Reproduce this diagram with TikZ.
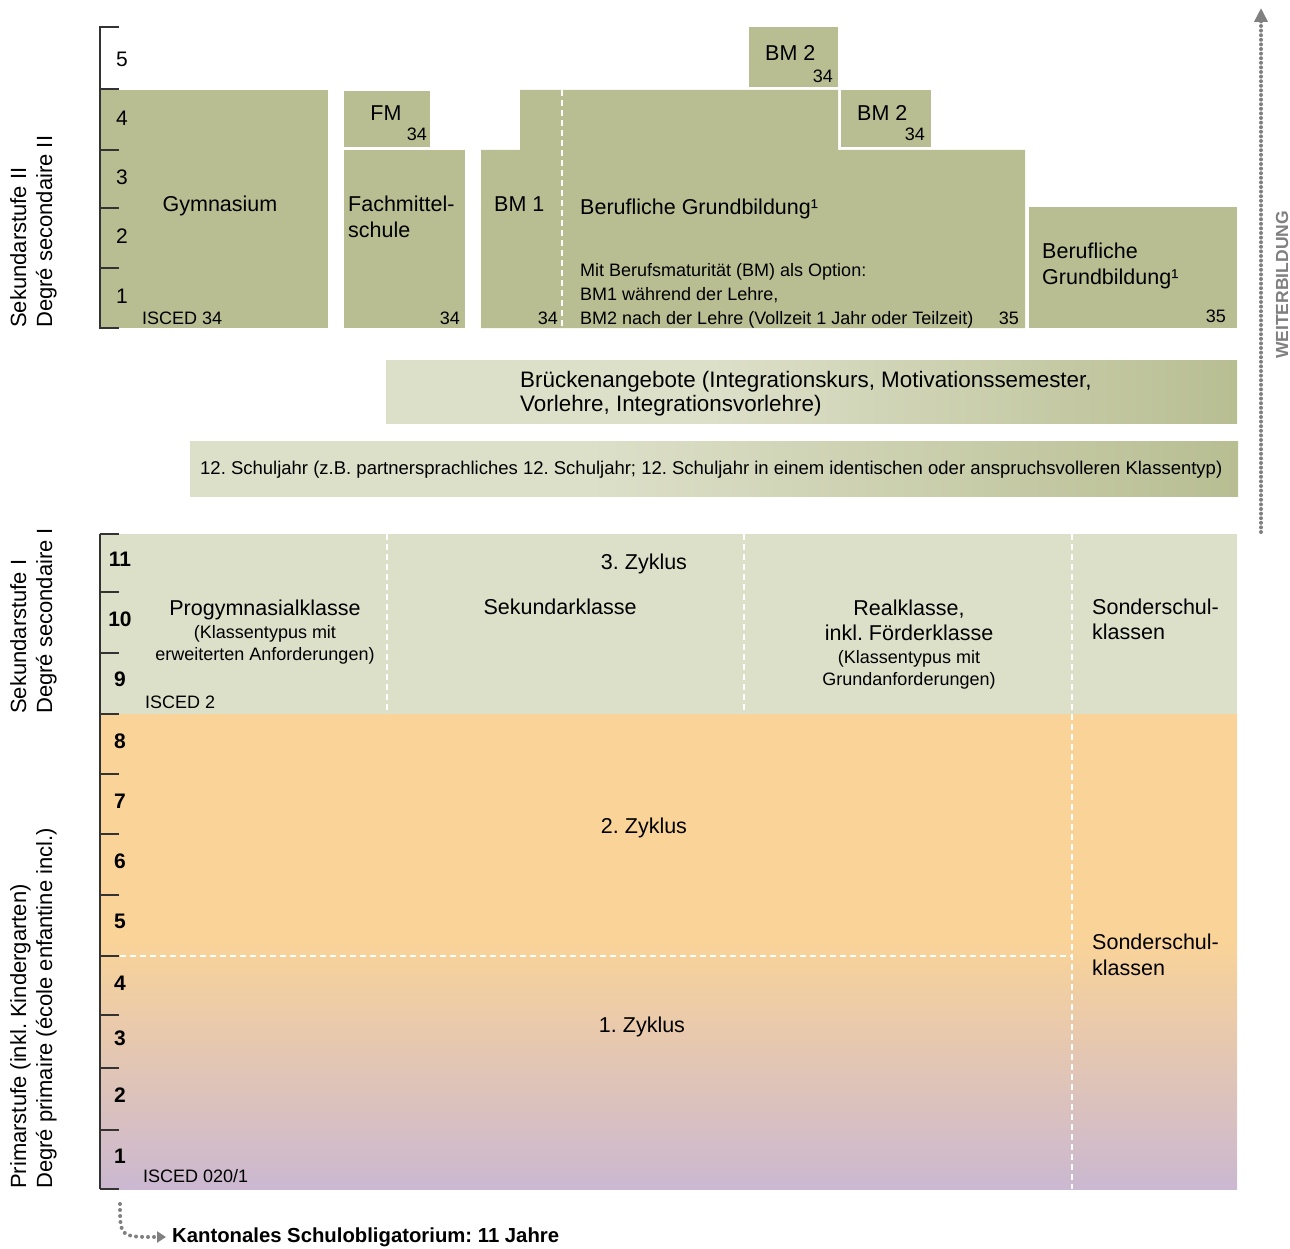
\documentclass[tikz,border=0pt]{standalone}
\usepackage{fontspec}
\setmainfont{Liberation Sans}
\usetikzlibrary{arrows.meta}
\definecolor{gruen}{HTML}{B8BE92}
\definecolor{hellgruen}{HTML}{DDE0C9}
\definecolor{primorange}{HTML}{F9D398}
\definecolor{lila}{HTML}{CBB8D1}
\definecolor{grau}{HTML}{808080}
\definecolor{achsgrau}{HTML}{333333}
\pgfdeclarehorizontalshading{balken}{100bp}{color(0bp)=(hellgruen); color(25bp)=(hellgruen); color(44bp)=(hellgruen); color(75bp)=(gruen); color(100bp)=(gruen)}
\pgfdeclareverticalshading{primar}{100bp}{color(0bp)=(lila); color(25bp)=(lila); color(51bp)=(primorange); color(75bp)=(primorange); color(100bp)=(primorange)}
\frenchspacing

\begin{document}
\begin{tikzpicture}[x=1pt, y=-1pt,
    lbl/.style={font=\fontsize{21.5}{25}\selectfont, inner sep=0pt},
    sml/.style={font=\fontsize{18}{24}\selectfont, inner sep=0pt},
    num/.style={font=\fontsize{21}{25}\selectfont, inner sep=0pt, anchor=base},
    bnum/.style={font=\bfseries\fontsize{21}{25}\selectfont, inner sep=0pt, anchor=base},
    side/.style={font=\fontsize{22}{26}\selectfont, rotate=90, align=left, anchor=north west, inner sep=0pt},
    achse/.style={achsgrau, line width=1.3pt},
    sep/.style={white, line width=1.3pt, dash pattern=on 6pt off 4pt},
    punkte/.style={grau, line width=4pt, line cap=round, dash pattern=on 0pt off 4.6pt}]
  \useasboundingbox (0,0) rectangle (1290,1249);

  \fill[gruen] (100,90) rectangle (328,328);
  \fill[gruen] (344,91) rectangle (430,147);
  \fill[gruen] (344,150) rectangle (465,328);
  \fill[gruen] (481,150) -- (520,150) -- (520,90) -- (838,90) -- (838,150) -- (1025,150) -- (1025,328) -- (481,328) -- cycle;
  \fill[gruen] (749,27) rectangle (838,87);
  \fill[gruen] (841,90) rectangle (931,147);
  \fill[gruen] (1029,207) rectangle (1237,328);
  \draw[sep] (562,90) -- (562,328);

  \shade[shading=balken] (386,360) rectangle (1237,423);
  \shade[shading=balken] (190,441) rectangle (1238,496);

  \fill[hellgruen] (100,534) rectangle (1237,714);
  \shade[shading=primar] (100,714) rectangle (1237,1189);
  \draw[sep] (387,534) -- (387,714);
  \draw[sep] (744,534) -- (744,714);
  \draw[sep] (1072,534) -- (1072,1189);
  \draw[sep] (100,956) -- (1072,956);

  \draw[achse] (119,27) -- (100,27) -- (100,328) -- (119,328);
  \foreach \y in {89,150,208,268}
    \draw[achse] (100,\y) -- (119,\y);
  \draw[achse] (100,534) -- (100,1189);
  \foreach \y in {534,592,653,714,774,834,895,956,1015,1068,1130,1189}
    \draw[achse] (100,\y) -- (119,\y);

  \foreach \n/\y in {5/67,4/126,3/185,2/244,1/303}
    \node (o\n) at (122,\y) [num] {\n};
  \foreach \n/\y in {11/566,10/626,9/686,8/748,7/808,6/868,5/928,4/990,3/1045,2/1102,1/1163}
    \node (u\n) at (120,\y) [bnum] {\n};

  \node (sek2) at (10,328) [side] {Sekundarstufe II\\Degré secondaire II};
  \node (sek1) at (10,714) [side] {Sekundarstufe I\\Degré secondaire I};
  \node (prim) at (10,1189) [side] {Primarstufe (inkl. Kindergarten)\\Degré primaire (école enfantine incl.)};

  \node (gym) at (220,212) [lbl, anchor=base] {Gymnasium};
  \node (gymisced) at (142,324) [sml, anchor=base west] {ISCED 34};
  \node (fm) at (386,121) [lbl, anchor=base] {FM};
  \node (fmisced) at (427,141) [sml, anchor=base east] {34};
  \node (fms) at (348,238) [lbl, anchor=base west, align=left, font=\fontsize{21.5}{26}\selectfont] {Fachmittel-\\schule};
  \node (fmsisced) at (460,324) [sml, anchor=base east] {34};
  \node (bm1) at (494,212) [lbl, anchor=base west] {BM 1};
  \node (bm1isced) at (558,324) [sml, anchor=base east] {34};
  \node (bg) at (580,215) [lbl, anchor=base west] {Berufliche Grundbildung¹};
  \node (bmopt) at (580,324) [sml, anchor=base west, align=left] {Mit Berufsmaturität (BM) als Option:\\BM1 während der Lehre,\\BM2 nach der Lehre (Vollzeit 1 Jahr oder Teilzeit)};
  \node (bgisced) at (1019,324) [sml, anchor=base east] {35};
  \node (bm2a) at (765,61) [lbl, anchor=base west] {BM 2};
  \node (bm2aisced) at (833,83) [sml, anchor=base east] {34};
  \node (bm2b) at (857,121) [lbl, anchor=base west] {BM 2};
  \node (bm2bisced) at (925,141) [sml, anchor=base east] {34};
  \node (bgr) at (1042,284) [lbl, anchor=base west, align=left] {Berufliche\\Grundbildung¹};
  \node (bgrisced) at (1226,322) [sml, anchor=base east] {35};

  \node (bruecke) at (520,411) [lbl, anchor=base west, align=left, font=\fontsize{22.4}{24}\selectfont] {Brückenangebote (Integrationskurs, Motivationssemester,\\Vorlehre, Integrationsvorlehre)};
  \node (sj12) at (200,474) [inner sep=0pt, anchor=base west, font=\fontsize{18.5}{20}\selectfont] {12. Schuljahr (z.B. partnersprachliches 12. Schuljahr; 12. Schuljahr in einem identischen oder anspruchsvolleren Klassentyp)};

  \node (z3) at (644,569) [lbl, anchor=base] {3. Zyklus};
  \node (progym) at (265,615) [lbl, anchor=base] {Progymnasialklasse};
  \node (progymtyp) at (265,660) [sml, anchor=base, align=center, font=\fontsize{18}{22}\selectfont] {(Klassentypus mit\\erweiterten Anforderungen)};
  \node (sekkl) at (560,614) [lbl, anchor=base] {Sekundarklasse};
  \node (real) at (909,640) [lbl, anchor=base, align=center] {Realklasse,\\inkl. Förderklasse};
  \node (realtyp) at (909,685) [sml, anchor=base, align=center, font=\fontsize{18}{22}\selectfont] {(Klassentypus mit\\Grundanforderungen)};
  \node (sonder1) at (1092,639) [lbl, anchor=base west, align=left] {Sonderschul-\\klassen};
  \node (isced2) at (145,708) [sml, anchor=base west] {ISCED 2};
  \node (z2) at (644,833) [lbl, anchor=base] {2. Zyklus};
  \node (z1) at (642,1032) [lbl, anchor=base] {1. Zyklus};
  \node (sonder2) at (1092,975) [lbl, anchor=base west, align=left, font=\fontsize{21.5}{26}\selectfont] {Sonderschul-\\klassen};
  \node (isced0) at (143,1182) [sml, anchor=base west] {ISCED 020/1};

  \node (wb) at (1282,285) [rotate=90, inner sep=0pt, text=grau, font=\bfseries\fontsize{17.5}{18}\selectfont] {WEITERBILDUNG};
  \coordinate (wbfuss) at (1261,532);
  \coordinate (wbspitze) at (1261,8);
  \draw[punkte, -{Triangle[length=14pt, width=13pt]}] (wbfuss) -- (wbspitze);

  \node (kanton) at (172,1237) [inner sep=0pt, anchor=west, font=\bfseries\fontsize{20.3}{24}\selectfont] {Kantonales Schulobligatorium: 11 Jahre};
  \coordinate (kstart) at (120,1204);
  \draw[punkte, dash pattern=on 0pt off 6pt, -{Triangle[length=9pt, width=11pt]}, shorten >=6pt] (kstart) .. controls (120,1237) .. (kanton.west);
\end{tikzpicture}
\end{document}
